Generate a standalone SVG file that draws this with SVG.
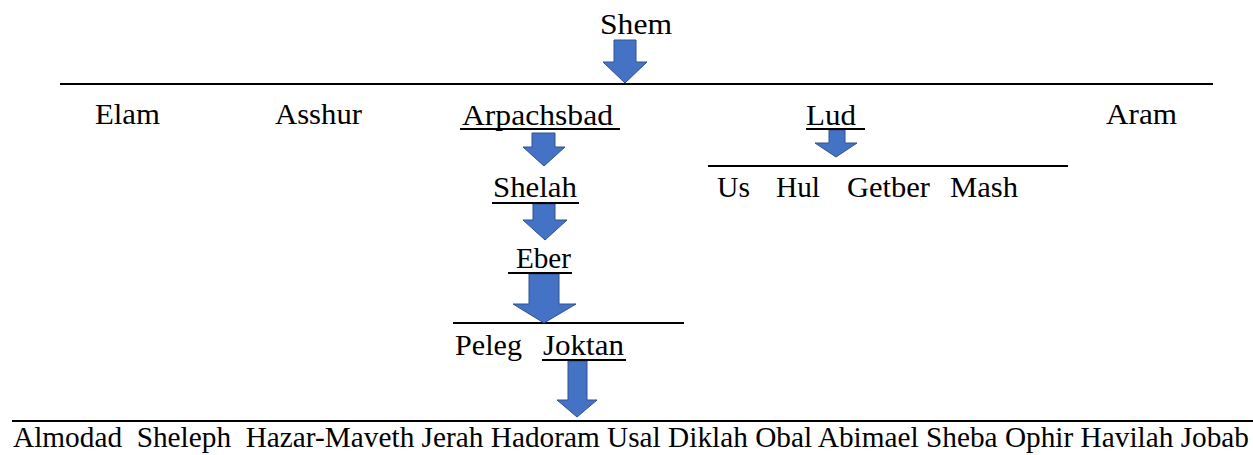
<svg xmlns="http://www.w3.org/2000/svg" width="1253" height="455" viewBox="0 0 1253 455">
<style>
.rule{stroke:#000;stroke-width:2}
.ul{stroke:#000;stroke-width:1.8}
.arrow{fill:#4472C4;stroke:#2F528F;stroke-width:1}
</style>
<rect width="1253" height="455" fill="#fff"/>
<g id="connectors">
<line class="rule" x1="60" y1="84" x2="1213" y2="84"/>
<line class="rule" x1="708" y1="166" x2="1068" y2="166"/>
<line class="rule" x1="453" y1="323" x2="684" y2="323"/>
<line class="rule" x1="12" y1="421" x2="1253" y2="421"/>
<polygon class="arrow" points="614,40 636,40 636,62 647,62 625,83 603,62 614,62"/>
<polygon class="arrow" points="532,133 555,133 555,147 565,147 544,166 523,147 532,147"/>
<polygon class="arrow" points="533,204 555,204 555,220 567,220 545,240 523,220 533,220"/>
<polygon class="arrow" points="529,274 559,274 559,304 576,304 544,323 513,304 529,304"/>
<polygon class="arrow" points="829,130 845,130 845,143 857,143 836,157 815,143 829,143"/>
<polygon class="arrow" points="568,361 587,361 587,400 597,400 577,417 557,400 568,400"/>
</g>
<g font-family="Liberation Serif, Times New Roman, serif" font-size="30" fill="#000">
<g id="shem"><text x="600" y="34" textLength="72" lengthAdjust="spacingAndGlyphs">Shem</text></g>
<g id="elam"><text x="95" y="124" textLength="65" lengthAdjust="spacingAndGlyphs">Elam</text></g>
<g id="asshur"><text x="275" y="124" textLength="87" lengthAdjust="spacingAndGlyphs">Asshur</text></g>
<g id="arpachsbad"><text x="462" y="125" textLength="151" lengthAdjust="spacingAndGlyphs">Arpachsbad</text><line class="ul" x1="460" y1="129" x2="620" y2="129"/></g>
<g id="lud"><text x="806" y="125" textLength="50" lengthAdjust="spacingAndGlyphs">Lud</text><line class="ul" x1="806" y1="129" x2="865" y2="129"/></g>
<g id="aram"><text x="1106" y="124" textLength="71" lengthAdjust="spacingAndGlyphs">Aram</text></g>
<g id="shelah"><text x="493" y="197" textLength="84" lengthAdjust="spacingAndGlyphs">Shelah</text><line class="ul" x1="492" y1="203" x2="579" y2="203"/></g>
<g id="lud-sons">
<text x="717" y="197" textLength="33" lengthAdjust="spacingAndGlyphs">Us</text>
<text x="776" y="197" textLength="44" lengthAdjust="spacingAndGlyphs">Hul</text>
<text x="847" y="197" textLength="83" lengthAdjust="spacingAndGlyphs">Getber</text>
<text x="950" y="197" textLength="68" lengthAdjust="spacingAndGlyphs">Mash</text>
</g>
<g id="eber"><text x="516" y="268" textLength="55" lengthAdjust="spacingAndGlyphs">Eber</text><line class="ul" x1="508" y1="273" x2="572" y2="273"/></g>
<g id="peleg"><text x="455" y="355" textLength="67" lengthAdjust="spacingAndGlyphs">Peleg</text></g>
<g id="joktan"><text x="543" y="355" textLength="81" lengthAdjust="spacingAndGlyphs">Joktan</text><line class="ul" x1="542" y1="360" x2="626" y2="360"/></g>
<g id="joktan-sons"><text x="13" y="447" font-size="29" textLength="1236" lengthAdjust="spacingAndGlyphs" xml:space="preserve" style="white-space:pre">Almodad  Sheleph  Hazar-Maveth Jerah Hadoram Usal Diklah Obal Abimael Sheba Ophir Havilah Jobab</text></g>
</g>
</svg>
